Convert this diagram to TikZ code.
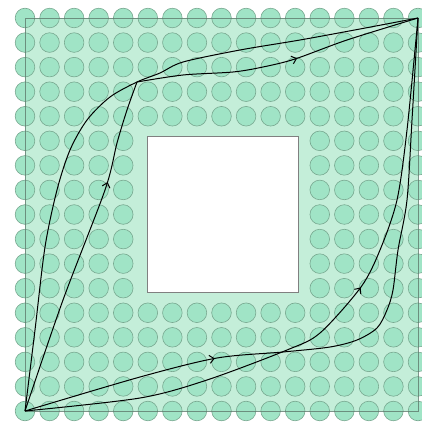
\documentclass[tikz,border=0pt]{standalone}
\usetikzlibrary{decorations.markings,arrows.meta}
\definecolor{bgg}{HTML}{C4EED9}
\definecolor{dotg}{HTML}{A0E4C6}
\definecolor{dote}{HTML}{78A890}
\definecolor{edgeg}{HTML}{5E7A6C}
\begin{document}
\begin{tikzpicture}[x=1pt,y=-1pt,
  trail/.style={line width=1pt, black},
  arrowat/.style={postaction={decorate}, decoration={markings, mark=at position #1 with {\arrow{Straight Barb[length=4.5pt,width=8pt,line width=1pt]}}}},
  dot/.style={fill=dotg, draw=dote, line width=0.6pt},
  holebox/.style={fill=white, draw=gray, line width=0.8pt}]
\useasboundingbox (0,0) rectangle (421,425);
\fill[bgg] (25,18) rectangle (418,411);
\foreach \i in {0,...,16}{
  \foreach \j in {0,...,16}{
    \pgfmathtruncatemacro\inhole{(\i>4)*(\i<12)*(\j>4)*(\j<12)}
    \ifnum\inhole=0
      \path[dot] ({25+24.5625*\i},{18+24.5625*\j}) circle[radius=9.8pt];
    \fi
  }
}
\draw[edgeg, line width=0.8pt, opacity=0.8] (25,18) rectangle (418,411);
\path[holebox] (147.3,136.7) rectangle (298.7,292.3);
\coordinate (BL) at (25,411);
\coordinate (TR) at (418,18);
\coordinate (K) at (137,82);
% upper-left route with arrows
\draw[trail, arrowat=0.70] plot[smooth, tension=0.5] coordinates {(BL) (63,300) (105,190) (117,143) (127,110) (K)};
\draw[trail, arrowat=0.56] plot[smooth, tension=0.5] coordinates {(K) (183,75) (233,72) (263,67) (295,59) (347,40) (TR)};
% upper-left bowing route
\draw[trail] plot[smooth, tension=0.5] coordinates {(BL) (35,330) (45,247) (57,190) (70,150) (87,120) (110,97) (K) (160,73) (183,62) (240,50) (300,40) (360,29) (TR)};
% lower-right routes
\draw[trail, arrowat=0.29] plot[smooth, tension=0.5] coordinates {(BL) (140,377) (217,358) (283,352) (330,347) (357,340) (377,328) (387,310) (393,290) (398,250) (407,200) (412,120) (TR)};
\draw[trail, arrowat=0.57] plot[smooth, tension=0.5] coordinates {(BL) (140,398) (207,380) (287,350) (320,333) (361,287) (380,250) (397,200) (407,130) (TR)};
\end{tikzpicture}
\end{document}
